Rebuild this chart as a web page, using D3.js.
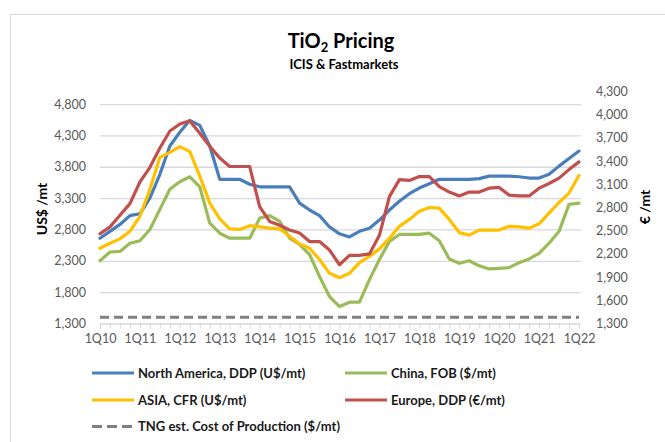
<!doctype html>
<html>
<head>
<meta charset="utf-8"/>
<title>TiO2 Pricing</title>
<script src="https://d3js.org/d3.v7.min.js"></script>
<style>
  body { margin: 0; background: #fff; }
  text { font-family: Lato, "Open Sans", sans-serif; }
</style>
</head>
<body>
<div id="chart"></div>
<script>
// quarters 1Q10 .. 1Q22
var quarters = ["1Q10","2Q10","3Q10","4Q10","1Q11","2Q11","3Q11","4Q11","1Q12","2Q12","3Q12","4Q12",
  "1Q13","2Q13","3Q13","4Q13","1Q14","2Q14","3Q14","4Q14","1Q15","2Q15","3Q15","4Q15",
  "1Q16","2Q16","3Q16","4Q16","1Q17","2Q17","3Q17","4Q17","1Q18","2Q18","3Q18","4Q18",
  "1Q19","2Q19","3Q19","4Q19","1Q20","2Q20","3Q20","4Q20","1Q21","2Q21","3Q21","4Q21","1Q22"];

var tickLabels = ["1Q10","1Q11","1Q12","1Q13","1Q14","1Q15","1Q16","1Q17","1Q18","1Q19","1Q20","1Q21","1Q22"];
var leftTicks = [1300,1800,2300,2800,3300,3800,4300,4800];
var rightTicks = [1300,1600,1900,2200,2500,2800,3100,3400,3700,4000,4300];

var northAmerica = [2660,2770,2880,3020,3050,3300,3680,4130,4350,4540,4460,4130,
  3600,3600,3600,3520,3480,3480,3480,3480,3220,3110,3020,2840,
  2730,2680,2770,2820,2950,3110,3250,3370,3460,3530,3600,3600,
  3600,3600,3610,3650,3650,3650,3640,3620,3620,3680,3810,3930,4050];

var china = [2300,2440,2450,2580,2620,2800,3120,3440,3560,3640,3480,2900,
  2740,2660,2660,2660,2980,3020,2930,2660,2560,2400,2050,1730,
  1570,1640,1640,2000,2320,2610,2720,2720,2720,2740,2620,2330,
  2260,2300,2220,2170,2180,2190,2270,2330,2420,2580,2770,3200,3220];

var asia = [2500,2580,2650,2770,3010,3440,3950,4030,4120,4040,3650,3220,
  2970,2810,2800,2860,2840,2820,2810,2690,2570,2500,2320,2100,
  2030,2100,2270,2370,2490,2660,2850,2960,3090,3150,3140,2960,
  2750,2710,2790,2790,2790,2850,2840,2820,2890,3060,3230,3380,3660];

// Europe is in EUR, plotted on the right axis
var europe = [2460,2550,2700,2850,3130,3320,3570,3790,3880,3920,3760,3590,
  3440,3330,3330,3330,2810,2620,2570,2510,2470,2360,2360,2250,
  2060,2180,2180,2200,2440,2940,3160,3150,3200,3200,3070,3000,
  2950,3000,3000,3050,3060,2960,2950,2950,3050,3110,3180,3290,3390];

var costOfProduction = [1400,1400,1400,1400,1400,1400,1400,1400,1400,1400,1400,1400,
  1400,1400,1400,1400,1400,1400,1400,1400,1400,1400,1400,1400,
  1400,1400,1400,1400,1400,1400,1400,1400,1400,1400,1400,1400,
  1400,1400,1400,1400,1400,1400,1400,1400,1400,1400,1400,1400,1400];

var seriesNames = ["North America, DDP (U$/mt)", "China, FOB ($/mt)", "ASIA, CFR (U$/mt)",
  "Europe, DDP (\u20AC/mt)", "TNG est. Cost of Production ($/mt)"];

var W = 665, H = 442;
var svg = d3.select("#chart").append("svg")
  .attr("width", W)
  .attr("height", H);

svg.append("rect")
  .attr("x", 10.5).attr("y", 14.5)
  .attr("width", 700).attr("height", 440)
  .attr("fill", "#fff")
  .attr("stroke", "#d9d9d9");

var x = d3.scalePoint().domain(quarters).range([100, 579]);
var yL = d3.scaleLinear().domain([1300, 5000]).range([323.5, 91.5]);
var yR = d3.scaleLinear().domain([1300, 4300]).range([323.5, 91.5]);

// gridlines
svg.append("g")
  .attr("transform", "translate(100,0)")
  .call(d3.axisLeft(yL).tickValues(leftTicks.slice(1)).tickSize(-481).tickFormat(""))
  .call(function(g) {
    g.select(".domain").remove();
    g.selectAll("line").attr("stroke", "#d9d9d9").attr("stroke-width", 1.3);
  });

// left axis labels
svg.append("g")
  .attr("transform", "translate(86,0)")
  .call(d3.axisLeft(yL).tickValues(leftTicks).tickSize(0).tickPadding(0).tickFormat(d3.format(",")))
  .call(function(g) {
    g.select(".domain").remove();
    g.selectAll("text").attr("fill", "#595959").style("font-size", "12.5px");
  });

// right axis labels
svg.append("g")
  .attr("transform", "translate(596,0)")
  .call(d3.axisRight(yR).tickValues(rightTicks).tickSize(0).tickPadding(0).tickFormat(d3.format(",")))
  .call(function(g) {
    g.select(".domain").remove();
    g.selectAll("text").attr("fill", "#595959").style("font-size", "12.5px");
  });

// category axis: a small tick at every quarter, labels on 1Q only
svg.append("g")
  .attr("transform", "translate(0,323.5)")
  .call(d3.axisBottom(x).tickSize(5).tickFormat(""))
  .call(function(g) {
    g.select(".domain").attr("stroke", "#d9d9d9").attr("stroke-width", 1.3);
    g.selectAll("line").attr("stroke", "#d9d9d9");
  });

svg.append("g")
  .attr("transform", "translate(0,323.5)")
  .call(d3.axisBottom(x).tickValues(tickLabels).tickSize(0).tickPadding(11))
  .call(function(g) {
    g.select(".domain").remove();
    g.selectAll("text").attr("fill", "#595959").style("font-size", "12.5px");
  });

// axis titles
svg.append("text")
  .attr("transform", "translate(47,209) rotate(-90)")
  .attr("text-anchor", "middle")
  .attr("font-size", 14).attr("font-weight", "bold")
  .text("US$ /mt");

svg.append("text")
  .attr("transform", "translate(650,207) rotate(-90)")
  .attr("text-anchor", "middle")
  .attr("font-size", 14).attr("font-weight", "bold")
  .text("\u20AC /mt");

// title
var title = svg.append("text")
  .attr("x", 341).attr("y", 48)
  .attr("text-anchor", "middle")
  .attr("font-size", 20).attr("font-weight", "bold");
title.append("tspan").text("TiO");
title.append("tspan").attr("font-size", 13).attr("dy", 4).text("2");
title.append("tspan").attr("dy", -4).text(" Pricing");

svg.append("text")
  .attr("x", 344).attr("y", 68.5)
  .attr("text-anchor", "middle")
  .attr("font-size", 13).attr("font-weight", "bold")
  .text("ICIS & Fastmarkets");

// lines
var series = [
  { values: northAmerica, y: yL, color: "#4a7ebb", dash: null },
  { values: china, y: yL, color: "#9bbb59", dash: null },
  { values: asia, y: yL, color: "#ffc000", dash: null },
  { values: europe, y: yR, color: "#c0504d", dash: null },
  { values: costOfProduction, y: yL, color: "#808080", dash: "9,5" }
];

series.forEach(function(s, k) {
  var line = d3.line()
    .x(function(d, i) { return x(quarters[i]); })
    .y(function(d) { return s.y(d); });
  svg.append("path")
    .datum(s.values)
    .attr("d", line)
    .attr("fill", "none")
    .attr("stroke", s.color)
    .attr("stroke-width", 3.2)
    .attr("stroke-linejoin", "round")
    .attr("stroke-linecap", s.dash ? "butt" : "round")
    .attr("stroke-dasharray", s.dash);
});

// legend
var legendPos = [[92, 373], [345, 373], [92, 400], [345, 400], [92, 426.5]];
series.forEach(function(s, k) {
  var g = svg.append("g").attr("transform", "translate(" + legendPos[k][0] + "," + legendPos[k][1] + ")");
  g.append("line")
    .attr("x1", 0).attr("x2", 42).attr("y1", 0).attr("y2", 0)
    .attr("stroke", s.color).attr("stroke-width", 3.2)
    .attr("stroke-dasharray", s.dash ? "10,5" : null);
  g.append("text")
    .attr("x", 46).attr("y", 4.5)
    .attr("font-size", 13).attr("font-weight", "bold")
    .attr("fill", "#1a1a1a")
    .text(seriesNames[k]);
});
</script>
</body>
</html>
